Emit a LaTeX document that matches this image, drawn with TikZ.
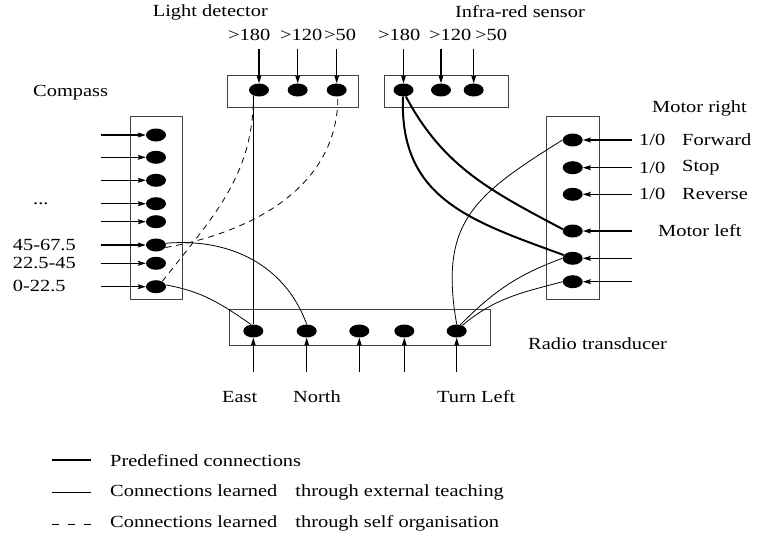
\documentclass[tikz,border=0pt]{standalone}
\usepackage{fontspec}
\setmainfont{Liberation Serif}[FakeStretch=1.2]
\usetikzlibrary{arrows.meta,shapes.geometric,calc}
\begin{document}
\begin{tikzpicture}[x=1pt,y=1pt,
  font=\fontsize{17}{20}\selectfont,
  dot/.style={ellipse,fill=black,minimum width=20pt,minimum height=13pt,inner sep=0pt},
  box/.style={draw=black!75,line width=1pt,inner sep=0pt},
  inarrow/.style={line width=1.1pt,-{Stealth[length=8pt,width=5pt,inset=1.5pt]}},
  lbl/.style={inner sep=0pt,anchor=west},
  predef/.style={line width=2pt},
  learn/.style={line width=0.8pt},
  selforg/.style={line width=0.8pt,dash pattern=on 6pt off 5pt}]
\useasboundingbox (0,0) rectangle (763,-535);

% boxes
\node[box,minimum width=131pt,minimum height=31pt] (ldbox) at (292.5,-91.5) {};
\node[box,minimum width=124pt,minimum height=32pt] (irbox) at (446,-91.5) {};
\node[box,minimum width=52pt,minimum height=183pt] (cbox) at (156,-208.3) {};
\node[box,minimum width=52.6pt,minimum height=183pt] (mbox) at (573,-208.3) {};
\node[box,minimum width=260.7pt,minimum height=36pt] (rbox) at (360.3,-327) {};

% dots
\foreach \n/\x in {1/259,2/297.7,3/336.7} \node[dot] (ld\n) at (\x,-90) {};
\foreach \n/\x in {1/403.5,2/441,3/473.7} \node[dot] (ir\n) at (\x,-90) {};
\foreach \n/\y in {1/135,2/157.3,3/180.3,4/203.7,5/221.7,6/245,7/263.3,8/286.7} \node[dot] (c\n) at (156,-\y) {};
\foreach \n/\y in {1/140,2/167.7,3/194.3,4/231,5/258.3,6/281.7} \node[dot] (m\n) at (572.7,-\y) {};
\foreach \n/\x in {1/253.3,2/306.7,3/359.3,4/404.3,5/456.7} \node[dot] (r\n) at (\x,-331) {};

% input arrows
\foreach \n in {1,2,3} {
  \coordinate (ldin\n) at ($(ld\n)+(0,41)$);
  \draw[inarrow] (ldin\n) -- (ld\n.north);
  \coordinate (irin\n) at ($(ir\n)+(0,41)$);
  \draw[inarrow] (irin\n) -- (ir\n.north);
}
\foreach \n in {1,...,8} {
  \coordinate (cin\n) at ($(c\n)+(-55,0)$);
  \draw[inarrow] (cin\n) -- (c\n.west);
}
\foreach \n in {1,...,6} {
  \coordinate (min\n) at ($(m\n)+(59,0)$);
  \draw[inarrow] (min\n) -- (m\n.east);
}
\foreach \n in {1,...,5} {
  \coordinate (rin\n) at ($(r\n)+(0,-40.7)$);
  \draw[inarrow] (rin\n) -- (r\n.south);
}

% predefined connections
\draw[predef] (ir1.265) to[out=-92,in=160,looseness=1.15] (m5.160);
\draw[predef] (ir1.-70) to[out=-62,in=152] (m4.170);

% learned through external teaching
\draw[learn] (ld1.225) -- (ld1.225 |- r1.north);
\draw[learn] (c6.10) to[out=5,in=110] (r2.north);
\draw[learn] (c8.10) to[out=-10,in=145] (r1.110);
\draw[learn] (m1.west) to[out=212,in=100,looseness=1.25] (r5.north);
\draw[learn] (m5.west) to[out=200,in=45] (r5.60);
\draw[learn] (m6.west) to[out=195,in=40] (r5.45);

% learned through self organisation
\draw[selforg] (c6.-15) to[out=10,in=-90] (ld3.-80);
\draw[selforg] (c8.40) to[out=52,in=-90] (ld1.225);

% titles
\node[inner sep=0pt,anchor=east] (tld) at (268,-12) {Light detector};
\node[lbl] (tir) at (455,-12) {Infra-red sensor};
\node[lbl] (tc) at (33,-93) {Compass};
\node[lbl] (tmr) at (652,-108) {Motor right};
\node[lbl] (tml) at (658,-231) {Motor left};
\node[lbl] (trt) at (528,-344) {Radio transducer};

% value labels
\node[lbl] (l1) at (228,-35) {>180};
\node[lbl] (l2) at (280,-35) {>120};
\node[lbl] (l3) at (324,-35) {>50};
\node[lbl] (i1) at (378,-35) {>180};
\node[lbl] (i2) at (429,-35) {>120};
\node[lbl] (i3) at (475,-35) {>50};

\node[inner sep=0pt,anchor=base west] (cdots) at (33,-204) {...};
\node[lbl] (c6l) at (12.7,-245) {45-67.5};
\node[lbl] (c7l) at (12.7,-263) {22.5-45};
\node[lbl] (c8l) at (12.7,-286) {0-22.5};

\node[lbl] (m1a) at (639,-140) {1/0};
\node[lbl] (m1b) at (682,-140) {Forward};
\node[lbl] (m2a) at (639,-168) {1/0};
\node[lbl] (m2b) at (682,-168) {Stop};
\node[lbl] (m3a) at (639,-194) {1/0};
\node[lbl] (m3b) at (682,-194) {Reverse};

\node[lbl] (re) at (222,-397) {East};
\node[lbl] (rn) at (293,-397) {North};
\node[lbl] (rt) at (437,-397) {Turn Left};

% legend
\coordinate (lg1a) at (52,-460); \coordinate (lg1b) at (91,-460);
\coordinate (lg2a) at (52,-492); \coordinate (lg2b) at (91,-492);
\coordinate (lg3a) at (52,-524); \coordinate (lg3b) at (91,-524);
\draw[predef] (lg1a) -- (lg1b);
\draw[learn] (lg2a) -- (lg2b);
\draw[learn,dash pattern=on 7pt off 9pt] (lg3a) -- (lg3b);
\node[lbl] (lt1) at (110,-461) {Predefined connections};
\node[lbl] (lt2) at (110,-492) {Connections learned\hspace{13pt} through external teaching};
\node[lbl] (lt3) at (110,-523) {Connections learned\hspace{13pt} through self organisation};
\end{tikzpicture}
\end{document}
